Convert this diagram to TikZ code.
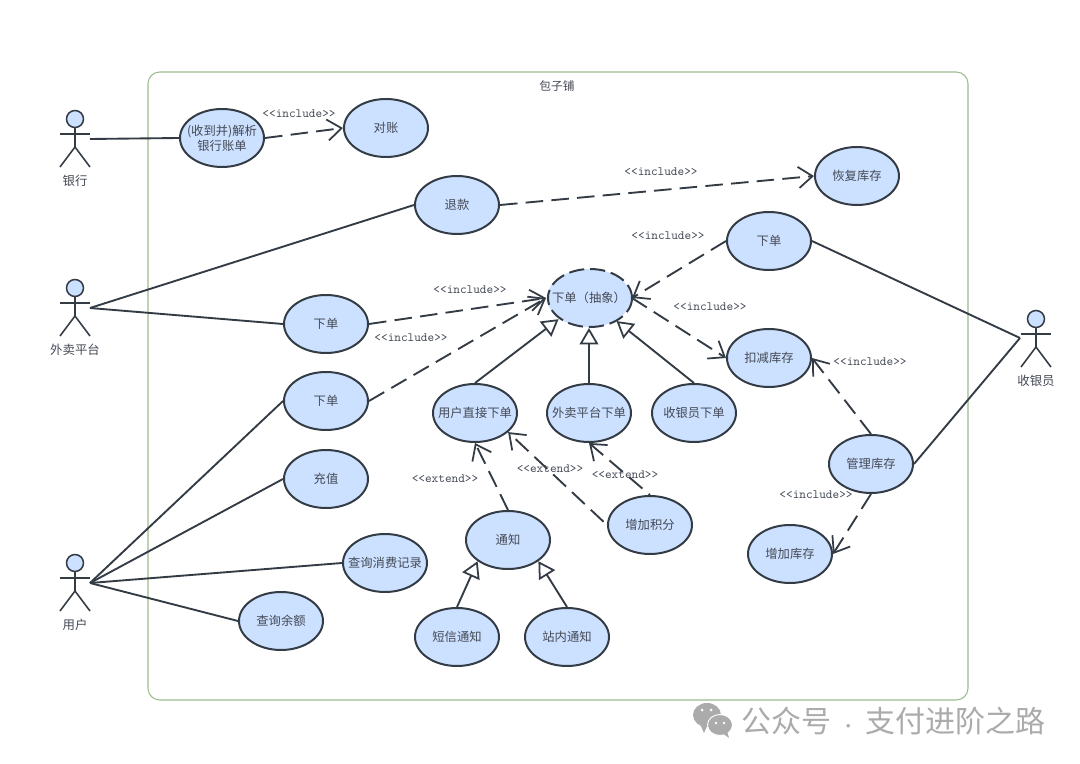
\documentclass[tikz,border=0pt]{standalone}
\usepackage{fontspec}
\usepackage{xcolor}
\usetikzlibrary{shapes.geometric, arrows.meta}
\newfontfamily\cjk{Noto Sans CJK SC}
\definecolor{usefill}{HTML}{CCE0FF}
\definecolor{useline}{HTML}{333B44}
\definecolor{usetext}{HTML}{444A55}
\definecolor{boundline}{HTML}{9DBB8E}
\definecolor{markgray}{HTML}{ABABAB}
\tikzset{
  usecase/.style={ellipse, draw=useline, fill=usefill, line width=1.7pt, minimum width=2.52cm,
    minimum height=1.74cm, inner sep=0pt, align=center, text=usetext, font=\cjk\fontsize{10.5}{12.8}\selectfont},
  link/.style={draw=useline, line width=1.6pt},
  dep/.style={link, dash pattern=on 15pt off 7pt, -{Straight Barb[length=12pt, width=18pt, line width=1.5pt]}},
  gen/.style={link, -{Triangle[open, fill=white, length=14pt, width=16pt, line width=1.5pt]}},
  stereo/.style={text=usetext, font=\ttfamily\fontsize{10.8}{12}\selectfont, inner sep=0pt},
  actorname/.style={text=usetext, font=\cjk\fontsize{10.6}{12}\selectfont, inner sep=0pt},
}
% long labels must not widen the ellipse
\newcommand{\uctext}[1]{\makebox[0pt]{#1}}
% stick figure: name, x, y of head, label
\newcommand{\umlactor}[4]{
  \draw[useline, line width=1.3pt, fill=usefill] (#2,#3) circle (8.5);
  \draw[useline, line width=1.3pt] (#2-15,#3+15) -- (#2+15,#3+15);
  \draw[useline, line width=1.3pt] (#2,#3+8) -- (#2,#3+28);
  \draw[useline, line width=1.3pt] (#2-15,#3+48) -- (#2,#3+28) -- (#2+15,#3+48);
  \node[actorname] (#1) at (#2,#3+61.5) {#4};
}
\begin{document}
\begin{tikzpicture}[x=0.03cm, y=-0.03cm]
  \useasboundingbox (0,0) rectangle (1080,764);
  \fill[white] (0,0) rectangle (1080,764);

  % system boundary
  \draw[boundline, line width=0.9pt, rounded corners=10] (148,72) rectangle (968,700);
  \node[text=usetext, font=\cjk\fontsize{10}{12}\selectfont, inner sep=0pt] (shop) at (557,86) {包子铺};

  % actors
  \umlactor{bank}{75}{119}{银行}
  \umlactor{delivery}{75}{288}{外卖平台}
  \umlactor{customer}{75}{563}{用户}
  \umlactor{cashier}{1036}{319}{收银员}
  \coordinate (bankhand) at (90,139);
  \coordinate (deliveryhand) at (90,308);
  \coordinate (customerhand) at (90,583);
  \coordinate (cashierhand) at (1020,338);

  % use cases
  \node[usecase] (parse) at (222,138) {\uctext{(收到并)解析}\\\uctext{银行账单}};
  \node[usecase] (check) at (386,128) {对账};
  \node[usecase] (refund) at (457,205) {退款};
  \node[usecase] (restore) at (857,176) {恢复库存};
  \node[usecase] (ordercash) at (769,241) {下单};
  \node[usecase, draw=none] (orderabs) at (589,298) {\uctext{下单（抽象）}};
  \draw[useline, line width=1.7pt, dash pattern=on 13pt off 5pt] (orderabs.east) arc (0:360:42 and 29);
  \node[usecase] (orderdel) at (326,324) {下单};
  \node[usecase] (orderusr) at (326,401) {下单};
  \node[usecase] (deduct) at (769,358) {扣减库存};
  \node[usecase] (direct) at (475,413) {\uctext{用户直接下单}};
  \node[usecase] (platform) at (589,413) {\uctext{外卖平台下单}};
  \node[usecase] (cashorder) at (694,413) {\uctext{收银员下单}};
  \node[usecase] (stock) at (871,464) {管理库存};
  \node[usecase] (charge) at (326,479) {充值};
  \node[usecase] (records) at (385,563) {\uctext{查询消费记录}};
  \node[usecase] (notify) at (508,540) {通知};
  \node[usecase] (points) at (650,525) {增加积分};
  \node[usecase] (addstock) at (790,554) {增加库存};
  \node[usecase] (balance) at (281,621) {查询余额};
  \node[usecase] (sms) at (457,637) {短信通知};
  \node[usecase] (inbox) at (567,637) {站内通知};

  % actor links
  \draw[link] (bankhand) -- (parse.west);
  \draw[link] (deliveryhand) -- (refund.west);
  \draw[link] (deliveryhand) -- (orderdel.west);
  \draw[link] (customerhand) -- (orderusr.west);
  \draw[link] (customerhand) -- (charge.west);
  \draw[link] (customerhand) -- (records.west);
  \draw[link] (customerhand) -- (balance.west);
  \draw[link] (cashierhand) -- (ordercash.east);
  \draw[link] (cashierhand) -- (stock.east);

  % include and extend
  \draw[dep] (parse.east) -- (check.west);
  \draw[dep] (refund.east) -- (restore.west);
  \draw[dep] (ordercash.west) -- (orderabs.east);
  \draw[dep] (orderdel.east) -- (orderabs.west);
  \draw[dep] (orderusr.east) -- (orderabs.west);
  \draw[dep] (orderabs.east) -- (deduct.west);
  \draw[dep] (stock.north) -- (deduct.east);
  \draw[dep] (stock.south) -- (addstock.east);
  \draw[dep] (notify.north) -- (direct.south);
  \draw[dep, dash phase=18pt] (points.west) -- (direct.-30);
  \draw[dep, dash phase=13.5pt] (points.north) -- (platform.south);

  % generalisation
  \draw[gen] (direct.north) -- (orderabs.south west);
  \draw[gen] (platform.north) -- (orderabs.south);
  \draw[gen] (cashorder.north) -- (orderabs.-40);
  \draw[gen] (sms.north) -- (notify.south west);
  \draw[gen] (inbox.north) -- (notify.south east);

  % stereotypes
  \node[stereo] (inc1) at (299,114) {<{}<include>{}>};
  \node[stereo] (inc2) at (661,172) {<{}<include>{}>};
  \node[stereo] (inc3) at (668,236) {<{}<include>{}>};
  \node[stereo] (inc4) at (470,290) {<{}<include>{}>};
  \node[stereo] (inc5) at (411,338) {<{}<include>{}>};
  \node[stereo] (inc6) at (710,307) {<{}<include>{}>};
  \node[stereo] (inc7) at (870,362) {<{}<include>{}>};
  \node[stereo] (inc8) at (816,495) {<{}<include>{}>};
  \node[stereo] (ext1) at (445,479) {<{}<extend>{}>};
  \node[stereo] (ext2) at (550,469) {<{}<extend>{}>};
  \node[stereo] (ext3) at (625,475) {<{}<extend>{}>};

  % watermark
  \fill[markgray] (707,715) ellipse (14 and 12);
  \fill[markgray] (700,724) -- (704,733) -- (708,724) -- cycle;
  \draw[fill=markgray, draw=white, line width=0.8pt] (720,725) ellipse (12.5 and 10.5);
  \fill[markgray] (722,733) -- (729,738) -- (727,731) -- cycle;
  \fill[white] (702,710) circle (1.5) (711,710) circle (1.5) (716,723) circle (1.3) (724,723) circle (1.3);
  \node[text=markgray, font=\cjk\fontsize{25.6}{28}\selectfont, inner sep=0pt, anchor=west] (mark) at (741,721) {公众号\makebox[29pt]{\fontsize{14}{14}\selectfont ·}支付进阶之路};
\end{tikzpicture}
\end{document}
